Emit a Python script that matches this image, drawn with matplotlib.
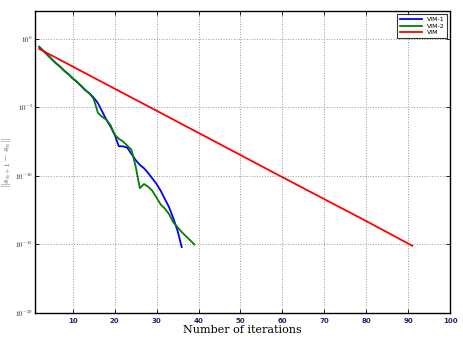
import numpy as np
import matplotlib
matplotlib.use('Agg')
import matplotlib.pyplot as plt
from matplotlib.ticker import FixedLocator, FixedFormatter

# iterations and log10 of ||s_{n+1} - s_n||
it_vim1 = list(range(2, 37))
log_vim1 = [-0.6, -0.9, -1.2, -1.5, -1.8, -2.05, -2.35, -2.6, -2.9, -3.15, -3.45,
            -3.75, -4.0, -4.3, -4.7, -5.3, -5.9, -6.4, -7.0, -7.85, -7.85, -7.95,
            -8.4, -8.85, -9.2, -9.45, -9.8, -10.2, -10.6, -11.1, -11.7, -12.3,
            -13.1, -14.0, -15.2]

it_vim2 = list(range(2, 40))
log_vim2 = [-0.6, -0.9, -1.2, -1.5, -1.8, -2.05, -2.35, -2.6, -2.9, -3.15, -3.45,
            -3.75, -4.0, -4.4, -5.4, -5.7, -5.9, -6.3, -7.0, -7.3, -7.5, -7.8,
            -8.1, -9.3, -10.9, -10.6, -10.8, -11.1, -11.6, -12.1, -12.4, -12.8,
            -13.4, -13.75, -14.1, -14.4, -14.7, -15.0]

it_vim = [2, 20, 40, 60, 80, 91]
log_vim = [-0.75, -3.65, -6.87, -10.1, -13.3, -15.1]

plt.rcParams['mathtext.fontset'] = 'cm'

fig = plt.figure(figsize=(4.63, 3.38), dpi=100)
ax = fig.add_axes([0.0756, 0.074, 0.8964, 0.893])

ax.semilogy(it_vim1, 10.0 ** np.array(log_vim1), color='#0000ff', lw=1.3, label='VIM-1')
ax.semilogy(it_vim2, 10.0 ** np.array(log_vim2), color='#008000', lw=1.3, label='VIM-2')
ax.semilogy(it_vim, 10.0 ** np.array(log_vim), color='#ff0000', lw=1.3, label='VIM')

ax.set_xlim(1, 100)
ax.set_ylim(1e-20, 1e2)

yt = [1e-20, 1e-15, 1e-10, 1e-5, 1e0]
ax.yaxis.set_major_locator(FixedLocator(yt))
ax.yaxis.set_major_formatter(FixedFormatter(['$10^{-20}$', '$10^{-15}$', '$10^{-10}$',
                                             '$10^{-5}$', '$10^{0}$']))
ax.yaxis.set_minor_locator(FixedLocator([]))
ax.set_xticks(range(10, 101, 10))

ax.tick_params(direction='in', length=3, width=0.6, labelsize=5, top=True, right=True)
ax.tick_params(axis='y', pad=1.5)
for lab in ax.get_xticklabels():
    lab.set_color('#1a2a6a')
    lab.set_fontweight('bold')
for lab in ax.get_yticklabels():
    lab.set_color('#222222')

ax.grid(True, linestyle=':', color='#999999', linewidth=0.7)
for s in ax.spines.values():
    s.set_linewidth(1.0)

ax.set_xlabel('Number of iterations', fontsize=8, family='serif', labelpad=1)
ax.set_ylabel(r'$\|s_{n+1}-s_n\|$', fontsize=7, color='#555555')
ax.yaxis.set_label_coords(-0.05, 0.5)

leg = ax.legend(loc='upper right', fontsize=4.5, frameon=True, fancybox=False,
                edgecolor='black', borderpad=0.4, handlelength=3.5, labelspacing=0.2,
                borderaxespad=0.5)
leg.get_frame().set_linewidth(0.8)

fig.savefig('out.png', dpi=100)
